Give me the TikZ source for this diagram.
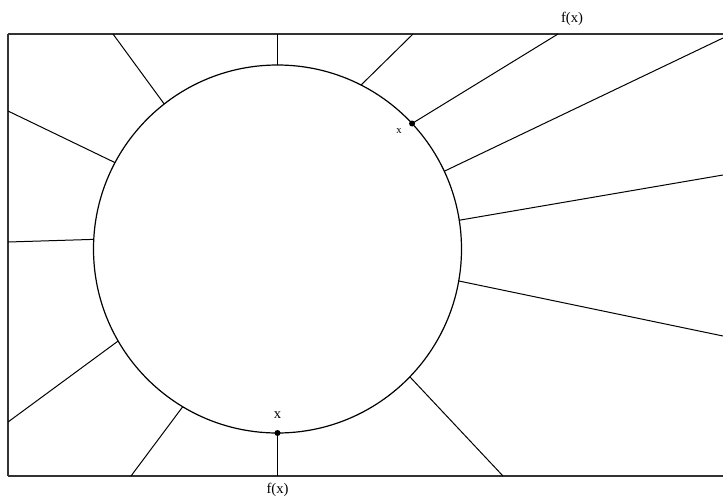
\documentclass[tikz,border=0pt]{standalone}
\usepackage{fontspec}
\setmainfont{Liberation Serif}
\begin{document}
\begin{tikzpicture}[x=0.75pt,y=-0.75pt,
  frame/.style={draw=black!80,line width=1.3pt},
  ray/.style={draw=black,line width=0.75pt},
  rim/.style={circle,draw=black,line width=0.9pt,inner sep=0pt,outer sep=0pt,minimum size=276pt},
  pt/.style={circle,fill=black,inner sep=0pt,minimum size=4.5pt},
  lbl/.style={font=\fontsize{11}{12}\selectfont,inner sep=1pt},
  slbl/.style={font=\fontsize{8}{9}\selectfont,inner sep=1pt}]
\useasboundingbox (0,0) rectangle (723,503);
\fill[white] (0,0) rectangle (723,503);
\draw[frame] (8,34) -- (728,34);
\draw[frame] (8,476) -- (728,476);
\draw[frame] (8,34) -- (8,476);
\node[rim] (c) at (277.5,249) {};
% outer ends
\coordinate (o1) at (277.5,34);
\coordinate (o2) at (113,34);
\coordinate (o3) at (8,111);
\coordinate (o4) at (8,242);
\coordinate (o5) at (8,422);
\coordinate (o6) at (131,476);
\coordinate (o7) at (277.5,476);
\coordinate (o8) at (503,476);
\coordinate (o9) at (723,336);
\coordinate (o10) at (723,175);
\coordinate (o11) at (723,38);
\coordinate (o12) at (558,34);
\coordinate (o13) at (413,34);
\draw[ray] (c.90) -- (o1);
\draw[ray] (c.128.1) -- (o2);
\draw[ray] (c.152.8) -- (o3);
\draw[ray] (c.177.8) -- (o4);
\draw[ray] (c.210.7) -- (o5);
\draw[ray] (c.239.3) -- (o6);
\draw[ray] (c.270) -- (o7);
\draw[ray] (c.316.6) -- (o8);
\draw[ray] (c.-10.9) -- (o9);
\draw[ray] (c.9.3) -- (o10);
\draw[ray] (c.25.4) -- (o11);
\draw[ray] (c.43.8) -- (o12);
\draw[ray] (c.63.6) -- (o13);
\node[pt] (p1) at (c.270) {};
\node[pt] (p2) at (c.43.8) {};
\node[lbl] (fx1) at (572,19) {f(x)};
\node[slbl] (x1) at (399,131) {x};
\node[lbl] (x2) at (277.5,415) {x};
\node[lbl] (fx2) at (277.5,490) {f(x)};
\end{tikzpicture}
\end{document}
